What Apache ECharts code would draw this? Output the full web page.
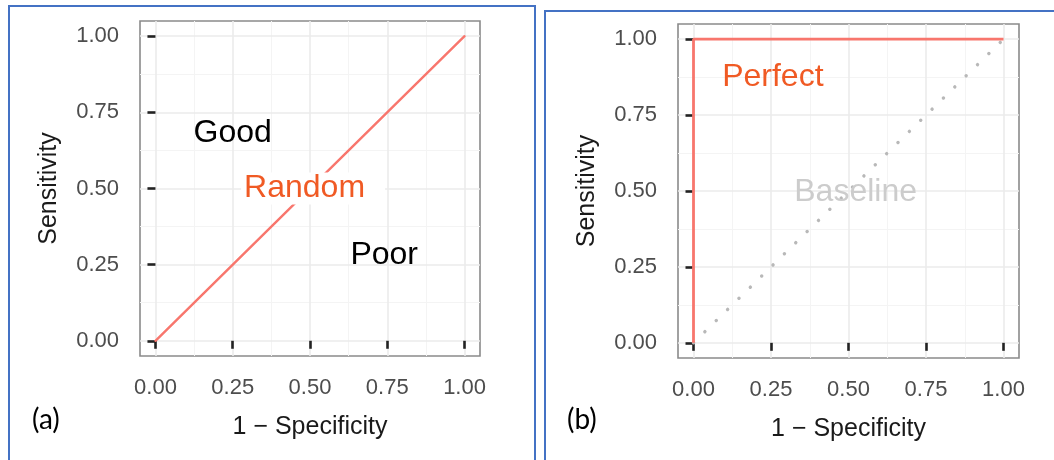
<!DOCTYPE html>
<html>
<head>
<meta charset="utf-8">
<script src="https://cdn.jsdelivr.net/npm/echarts@6/dist/echarts.min.js"></script>
<style>
  html, body { margin: 0; padding: 0; background: #fff; }
  #chart { width: 1054px; height: 460px; }
</style>
</head>
<body>
<div id="chart"></div>
<script>
// ROC reference curves: (a) random classifier, (b) perfect classifier with baseline

const majorTicks = [0, 0.25, 0.5, 0.75, 1];
const minorTicks = [0.125, 0.375, 0.625, 0.875];

// (a) random classifier diagonal
const randomX = [0, 1];
const randomY = [0, 1];

// (b) perfect classifier and dotted chance baseline
const perfectX = [0, 0, 1];
const perfectY = [0, 1, 1];
const baselineX = [0, 1];
const baselineY = [0, 1];

// region annotations
const notesA = ['Good', 'Random', 'Poor'];
const notesAX = [0.25, 0.51, 0.74];
const notesAY = [0.682, 0.5, 0.28];
const notesB = ['Perfect', 'Baseline'];
const notesBX = [0.256, 0.523];
const notesBY = [0.874, 0.497];

const panelTags = ['(a)', '(b)'];

const RED = '#f8766d';
const RED_TEXT = '#f05a24';
const FONT = '"Liberation Sans", Arial, Helvetica, sans-serif';

const zip = (xs, ys) => xs.map((x, i) => [x, ys[i]]);

function mainAxis(dim, gridIndex, name) {
  const isX = dim === 'x';
  return {
    type: 'value',
    gridIndex: gridIndex,
    min: -0.05,
    max: 1.05,
    name: name,
    nameLocation: 'middle',
    nameGap: isX ? 59 : 78,
    nameTextStyle: { fontFamily: FONT, fontSize: 25, color: '#1a1a1a' },
    axisLine: { show: false },
    axisTick: {
      show: true, inside: false, length: 8,
      customValues: majorTicks,
      lineStyle: { color: '#222222', width: 2.6 }
    },
    axisLabel: {
      show: true,
      customValues: majorTicks,
      margin: isX ? 21 : 21,
      fontFamily: FONT, fontSize: 22, color: '#4d4d4d',
      formatter: v => v.toFixed(2)
    },
    splitLine: { show: true, lineStyle: { color: '#ebebeb', width: 1.6 } },
    z: 1
  };
}

function minorAxis(dim, gridIndex) {
  return {
    type: 'value',
    gridIndex: gridIndex,
    min: -0.05,
    max: 1.05,
    position: dim === 'x' ? 'top' : 'right',
    axisLine: { show: false },
    axisTick: { show: false, customValues: minorTicks },
    axisLabel: { show: false, customValues: minorTicks },
    splitLine: { show: true, lineStyle: { color: '#f4f4f4', width: 1 } },
    z: 0
  };
}

function noteSeries(names, xs, ys, xIdx, yIdx, color, extra) {
  return {
    type: 'scatter',
    xAxisIndex: xIdx,
    yAxisIndex: yIdx,
    symbolSize: 0,
    silent: true,
    z: 5,
    itemStyle: { opacity: 1 },
    data: names.map((n, i) => ({ name: n, value: [xs[i], ys[i]] })),
    label: Object.assign({
      show: true,
      position: 'inside',
      align: 'center',
      verticalAlign: 'middle',
      formatter: '{b}',
      fontFamily: FONT,
      fontSize: 32,
      color: color,
      opacity: 1
    }, extra || {})
  };
}

const chart = echarts.init(document.getElementById('chart'), null, { renderer: 'canvas' });

chart.setOption({
  animation: false,
  backgroundColor: '#ffffff',
  grid: [
    { left: 140, top: 21, width: 340, height: 335, show: true,
      backgroundColor: '#ffffff', borderColor: '#8a8a8a', borderWidth: 1.6 },
    { left: 678, top: 24, width: 341, height: 334, show: true,
      backgroundColor: '#ffffff', borderColor: '#8a8a8a', borderWidth: 1.6 }
  ],
  xAxis: [
    mainAxis('x', 0, '1 \u2212 Specificity'),
    mainAxis('x', 1, '1 \u2212 Specificity'),
    minorAxis('x', 0),
    minorAxis('x', 1)
  ],
  yAxis: [
    mainAxis('y', 0, 'Sensitivity'),
    mainAxis('y', 1, 'Sensitivity'),
    minorAxis('y', 0),
    minorAxis('y', 1)
  ],
  series: [
    {
      type: 'line', xAxisIndex: 0, yAxisIndex: 0,
      data: zip(randomX, randomY),
      showSymbol: false, silent: true, z: 3,
      lineStyle: { color: RED, width: 2.4, cap: 'round' }
    },
    noteSeries([notesA[0], notesA[2]], [notesAX[0], notesAX[2]], [notesAY[0], notesAY[2]], 0, 0, '#000000'),
    noteSeries([notesA[1]], [notesAX[1]], [notesAY[1]], 0, 0, RED_TEXT,
      { backgroundColor: '#ffffff', padding: [0, 20, 0, 3] }),
    {
      type: 'line', xAxisIndex: 1, yAxisIndex: 1,
      data: zip(baselineX, baselineY),
      showSymbol: false, silent: true, z: 2,
      lineStyle: { color: '#b8b8b8', width: 3.4, type: [0.1, 15.8], cap: 'round' }
    },
    {
      type: 'line', xAxisIndex: 1, yAxisIndex: 1,
      data: zip(perfectX, perfectY),
      showSymbol: false, silent: true, z: 3,
      lineStyle: { color: RED, width: 2.8 }
    },
    noteSeries([notesB[0]], [notesBX[0]], [notesBY[0]], 1, 1, RED_TEXT),
    noteSeries([notesB[1]], [notesBX[1]], [notesBY[1]], 1, 1, '#cccccc')
  ],
  graphic: [
    { type: 'rect', silent: true, z: 10,
      shape: { x: 9, y: 6, width: 526, height: 470 },
      style: { fill: null, stroke: '#4472c4', lineWidth: 2 } },
    { type: 'rect', silent: true, z: 10,
      shape: { x: 545, y: 11, width: 540, height: 470 },
      style: { fill: null, stroke: '#4472c4', lineWidth: 2 } },
    { type: 'text', silent: true, z: 10, left: 32, top: 406,
      style: { text: panelTags[0], font: '28px Lato, "Open Sans", sans-serif', fill: '#000000' } },
    { type: 'text', silent: true, z: 10, left: 567, top: 406,
      style: { text: panelTags[1], font: '28px Lato, "Open Sans", sans-serif', fill: '#000000' } }
  ]
});
</script>
</body>
</html>
